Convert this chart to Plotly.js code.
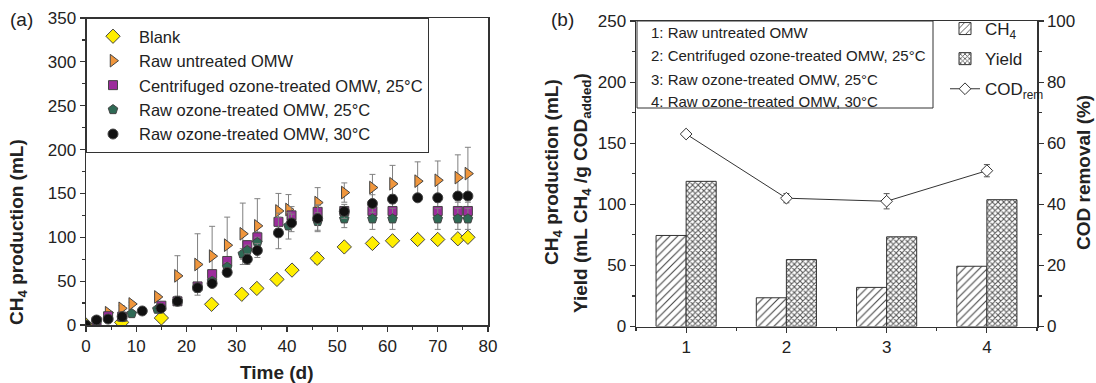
<!DOCTYPE html>
<html>
<head>
<meta charset="utf-8">
<script src="https://cdn.plot.ly/plotly-3.0.1.min.js"></script>
<style>html,body{margin:0;padding:0;background:#fff;}#chart{width:1096px;height:383px;}</style>
</head>
<body>
<div id="chart"></div>
<script>
// ---------- Panel (a): cumulative CH4 production ----------
const seriesNames = ["Blank", "Raw untreated OMW", "Centrifuged ozone-treated OMW, 25°C", "Raw ozone-treated OMW, 25°C", "Raw ozone-treated OMW, 30°C"];

const blankDays = [0, 7.1, 15, 25, 31, 34, 38, 41, 46, 51.4, 57, 61, 66, 70, 74, 76];
const blankCH4  = [0, 3, 8, 23.6, 35, 41.7, 52, 62.6, 76, 89, 93, 96, 97.5, 97.5, 98.3, 100];
const blankErr  = [0, 3, 5, 2, 2, 2, 2, 2, 6, 4, 4, 2, 2, 2, 2, 2];

const rawDays = [4.4, 7.1, 9.1, 14.2, 18.2, 22.2, 25.1, 28.1, 31.2, 34.1, 38.3, 40.3, 46.1, 51.4, 57, 61, 66, 70, 74, 76];
const rawCH4  = [14, 19, 24, 32, 56, 69, 78.5, 91, 104, 113, 130, 131.7, 139.6, 151, 156.7, 161, 164, 165, 168, 172.6];
const rawErr  = [2, 3, 2, 3, 23, 35, 34, 32, 35, 31, 20, 17, 17, 11, 15, 21, 22, 22, 26, 30];

const centDays = [2.1, 4.4, 7.2, 15, 18.2, 22.2, 25.1, 28.1, 32.1, 34.1, 38.3, 40.9, 46.1, 51.4, 57, 61, 70, 74, 76];
const centCH4  = [4, 10, 9.5, 22, 27, 44, 58, 73, 91, 100, 117.6, 125, 129, 130, 130, 130, 130, 130, 130];
const centErr  = [1, 2, 2, 2, 2, 4, 4, 4, 5, 6, 10, 10, 8, 5, 10, 10, 10, 10, 10];

const oz25Days = [2.1, 7.2, 9.1, 14.2, 18.2, 22.2, 25.1, 28.1, 31.2, 32.1, 34.1, 40.3, 46.1, 51.4, 57, 61, 70, 74, 76];
const oz25CH4  = [5, 9, 13, 18, 27, 42, 50, 66, 81, 85, 94, 113, 118, 121, 121, 121, 121, 121, 121];
const oz25Err  = [1, 2, 2, 2, 2, 4, 4, 5, 6, 6, 6, 15, 10, 10, 12, 12, 12, 12, 12];

const oz30Days = [0, 2.1, 4.4, 7.2, 11.2, 14.9, 18.2, 22.2, 25.1, 28.1, 32.1, 34.1, 38.3, 40.9, 46.1, 51.4, 57, 61, 66, 70, 74, 76];
const oz30CH4  = [0, 5.7, 6.8, 9.5, 16, 19, 27, 42.5, 47.4, 60, 75, 85, 105, 116.4, 121.4, 129.5, 138.5, 143.5, 145, 145, 147, 147];
const oz30Err  = [0, 1, 1, 2, 1, 2, 2, 5, 4, 5, 6, 8, 18, 10, 15, 8, 10, 5, 2, 2, 3, 3];

// ---------- Panel (b): totals, yield and COD removal ----------
const treatments = [1, 2, 3, 4];
const treatmentLabels = ["1: Raw untreated OMW", "2: Centrifuged ozone-treated OMW, 25°C", "3: Raw ozone-treated OMW, 25°C", "4: Raw ozone-treated OMW, 30°C"];
const ch4Total = [74.5, 23.5, 32, 49.3];
const yieldVals = [118.8, 54.8, 73.4, 103.8];
const codRemoval = [63, 42, 41, 51];
const codErr = [0.8, 1.5, 2.5, 2];

const FONT = "Liberation Sans, Arial, sans-serif";
const errStyle = (arr) => ({type: 'data', array: arr, visible: true, color: '#808080', thickness: 1, width: 3});

function ser(name, x, y, e, symbol, color, size) {
  return {
    type: 'scatter', mode: 'markers', name: name, x: x, y: y,
    xaxis: 'x', yaxis: 'y', legend: 'legend',
    error_y: errStyle(e),
    marker: {symbol: symbol, color: color, size: size, line: {color: '#444', width: 1}}
  };
}

const traces = [
  ser(seriesNames[0], blankDays, blankCH4, blankErr, 'diamond', '#ffee00', 11),
  ser(seriesNames[1], rawDays, rawCH4, rawErr, 'triangle-right', '#f0963c', 11),
  ser(seriesNames[2], centDays, centCH4, centErr, 'square', '#9c2c9c', 9),
  ser(seriesNames[3], oz25Days, oz25CH4, oz25Err, 'pentagon', '#2f6a55', 10),
  ser(seriesNames[4], oz30Days, oz30CH4, oz30Err, 'circle', '#111111', 10),
  {
    type: 'bar', name: 'CH<sub>4</sub>', x: treatments, y: ch4Total, xaxis: 'x2', yaxis: 'y2',
    legend: 'legend2', legendgroup: 'a',
    marker: {color: 'white', line: {color: '#333', width: 1},
      pattern: {shape: '/', fgcolor: '#444', bgcolor: 'white', size: 5.5, solidity: 0.2}}
  },
  {
    type: 'bar', name: 'Yield', x: treatments, y: yieldVals, xaxis: 'x2', yaxis: 'y2',
    legend: 'legend2', legendgroup: 'b',
    marker: {color: 'white', line: {color: '#333', width: 1},
      pattern: {shape: 'x', fgcolor: '#555', bgcolor: 'white', size: 4, solidity: 0.45}}
  },
  {
    type: 'scatter', mode: 'lines+markers', name: 'COD<sub>rem</sub>', x: treatments, y: codRemoval,
    xaxis: 'x2', yaxis: 'y3', legend: 'legend2', legendgroup: 'c',
    line: {color: '#333', width: 1},
    marker: {symbol: 'diamond', size: 9, color: 'white', line: {color: '#333', width: 1}},
    error_y: {type: 'data', array: codErr, visible: true, color: '#555', thickness: 1, width: 3}
  }
];

const W = 1096, H = 383;
const px = v => v / W;
const py = v => (H - v) / H;

const axisBase = {
  showline: true, linecolor: '#333', linewidth: 1.5, ticks: 'outside', ticklen: 5, tickwidth: 1.2,
  tickcolor: '#333', showgrid: false, zeroline: false,
  tickfont: {family: FONT, size: 17, color: '#222'}
};

const titleFont = {family: FONT, size: 19, color: '#222'};
function label(text, x, y, angle) {
  return {text: text, xref: 'paper', yref: 'paper', x: px(x), y: py(y), xanchor: 'center', yanchor: 'middle',
          textangle: angle || 0, showarrow: false, font: titleFont};
}
const boxLineY = [33, 56, 79, 101];
const boxAnnotations = treatmentLabels.map((t, i) => ({
  text: t, xref: 'paper', yref: 'paper', x: px(649), y: py(boxLineY[i]), xanchor: 'left', yanchor: 'middle',
  showarrow: false, font: {family: FONT, size: 15, color: '#222'}
}));

const layout = {
  width: W, height: H,
  margin: {l: 0, r: 0, t: 0, b: 0},
  paper_bgcolor: '#fff', plot_bgcolor: '#fff',
  font: {family: FONT, color: '#222'},
  showlegend: true,
  barmode: 'group', bargap: 0.4, bargroupgap: 0,
  xaxis: Object.assign({}, axisBase, {
    domain: [px(86), px(488)], range: [0, 80], dtick: 10, mirror: true, anchor: 'y',
    minor: {dtick: 5, ticks: 'outside', ticklen: 3, tickcolor: '#333'}
  }),
  yaxis: Object.assign({}, axisBase, {
    domain: [py(325), py(18)], range: [0, 350], dtick: 50, mirror: true, anchor: 'x',
    minor: {dtick: 25, ticks: 'outside', ticklen: 3, tickcolor: '#333'}
  }),
  xaxis2: Object.assign({}, axisBase, {
    domain: [px(636), px(1037)], range: [0.5, 4.5], tickvals: treatments, mirror: true, anchor: 'y2',
    minor: {dtick: 0.5, tick0: 0.5, ticks: 'outside', ticklen: 3, tickcolor: '#333'}
  }),
  yaxis2: Object.assign({}, axisBase, {
    domain: [py(326.5), py(21)], range: [0, 250], dtick: 50, anchor: 'x2',
    minor: {dtick: 25, ticks: 'outside', ticklen: 3, tickcolor: '#333'}
  }),
  yaxis3: Object.assign({}, axisBase, {
    overlaying: 'y2', side: 'right', anchor: 'x2', range: [0, 100], dtick: 20,
    minor: {dtick: 10, ticks: 'outside', ticklen: 3, tickcolor: '#333'}
  }),
  legend: {
    x: px(86), y: py(18), xanchor: 'left', yanchor: 'top',
    bordercolor: '#333', borderwidth: 1, bgcolor: 'rgba(255,255,255,0)',
    font: {family: FONT, size: 16.5, color: '#222'}, tracegroupgap: 0, itemsizing: 'trace', itemwidth: 42
  },
  legend2: {
    x: px(945), y: py(11), xanchor: 'left', yanchor: 'top',
    borderwidth: 0, bgcolor: 'rgba(255,255,255,0)',
    font: {family: FONT, size: 17, color: '#222'}, tracegroupgap: 5, traceorder: 'grouped'
  },
  shapes: [
    {type: 'rect', xref: 'paper', yref: 'paper', x0: px(637), x1: px(933), y0: py(108), y1: py(21),
     line: {color: '#333', width: 1}, fillcolor: 'rgba(0,0,0,0)'}
  ],
  annotations: [
    label('(a)', 21, 19),
    label('(b)', 562, 19),
    label('<b>Time (d)</b>', 277, 372),
    label('<b>CH<sub>4</sub> production (mL)</b>', 18, 232, -90),
    label('<b>CH<sub>4</sub> production (mL)</b>', 553, 172, -90),
    label('<b>Yield (mL CH<sub>4</sub> /g COD<sub>added</sub>)</b>', 582, 193, -90),
    label('<b>COD removal (%)</b>', 1083, 173, -90)
  ].concat(boxAnnotations)
};

Plotly.newPlot('chart', traces, layout, {displayModeBar: false, staticPlot: true});
</script>
</body>
</html>
